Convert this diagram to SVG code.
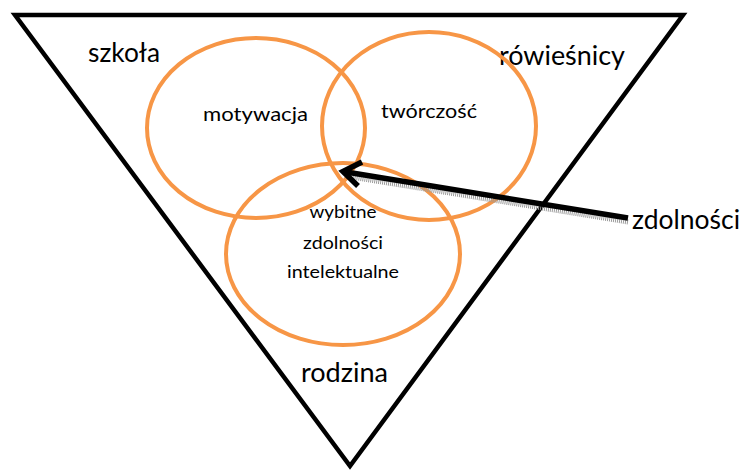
<svg xmlns="http://www.w3.org/2000/svg" width="743" height="472" viewBox="0 0 743 472">
<style>
.tri{fill:none;stroke:#000;stroke-width:4.5;stroke-linejoin:miter}
.ell{fill:none;stroke:#F79646;stroke-width:4}
.big{font-family:Lato,"Liberation Sans",sans-serif;font-size:26px;fill:#000}
.mid{font-family:Lato,"Liberation Sans",sans-serif;font-size:19px;fill:#000}
.sm{font-family:Lato,"Liberation Sans",sans-serif;font-size:17px;fill:#000;text-anchor:middle}
.arr{fill:none;stroke:#000;stroke-width:5.5;stroke-linecap:butt;stroke-linejoin:miter}
.shadow{fill:none;stroke:#9a9a9a;stroke-width:5;stroke-dasharray:1 1}
</style>
<rect width="743" height="472" fill="#fff"/>
<g id="triangle">
<polygon class="tri" points="15,15 683,15 350,466"/>
</g>
<g id="szkola"><text class="big" x="88" y="62" textLength="72" lengthAdjust="spacingAndGlyphs">szkoła</text></g>
<g id="rowiesnicy"><text class="big" x="499" y="65" textLength="126" lengthAdjust="spacingAndGlyphs">rówieśnicy</text></g>
<g id="rodzina"><text class="big" x="301" y="382" textLength="87" lengthAdjust="spacingAndGlyphs">rodzina</text></g>
<g id="motywacja">
<ellipse class="ell" cx="256" cy="128" rx="109" ry="90"/>
<text class="mid" x="203" y="121" textLength="105" lengthAdjust="spacingAndGlyphs">motywacja</text>
</g>
<g id="tworczosc">
<ellipse class="ell" cx="429" cy="126" rx="107" ry="94"/>
<text class="mid" x="381" y="118" textLength="96" lengthAdjust="spacingAndGlyphs">twórczość</text>
</g>
<g id="wybitne">
<ellipse class="ell" cx="343" cy="254" rx="117" ry="91"/>
<text class="sm" x="343" y="218" textLength="67" lengthAdjust="spacingAndGlyphs">wybitne</text>
<text class="sm" x="343" y="249" textLength="80" lengthAdjust="spacingAndGlyphs">zdolności</text>
<text class="sm" x="343" y="278" textLength="112" lengthAdjust="spacingAndGlyphs">intelektualne</text>
</g>
<g id="zdolnosci"><text class="big" x="632" y="229" textLength="108" lengthAdjust="spacingAndGlyphs">zdolności</text></g>
<g id="connectors">
<line class="shadow" x1="628" y1="222" x2="345" y2="176"/>
<line class="arr" x1="628" y1="218" x2="343" y2="171.5"/>
<polyline class="arr" points="362,162 343,171.5 358,186"/>
</g>
</svg>
